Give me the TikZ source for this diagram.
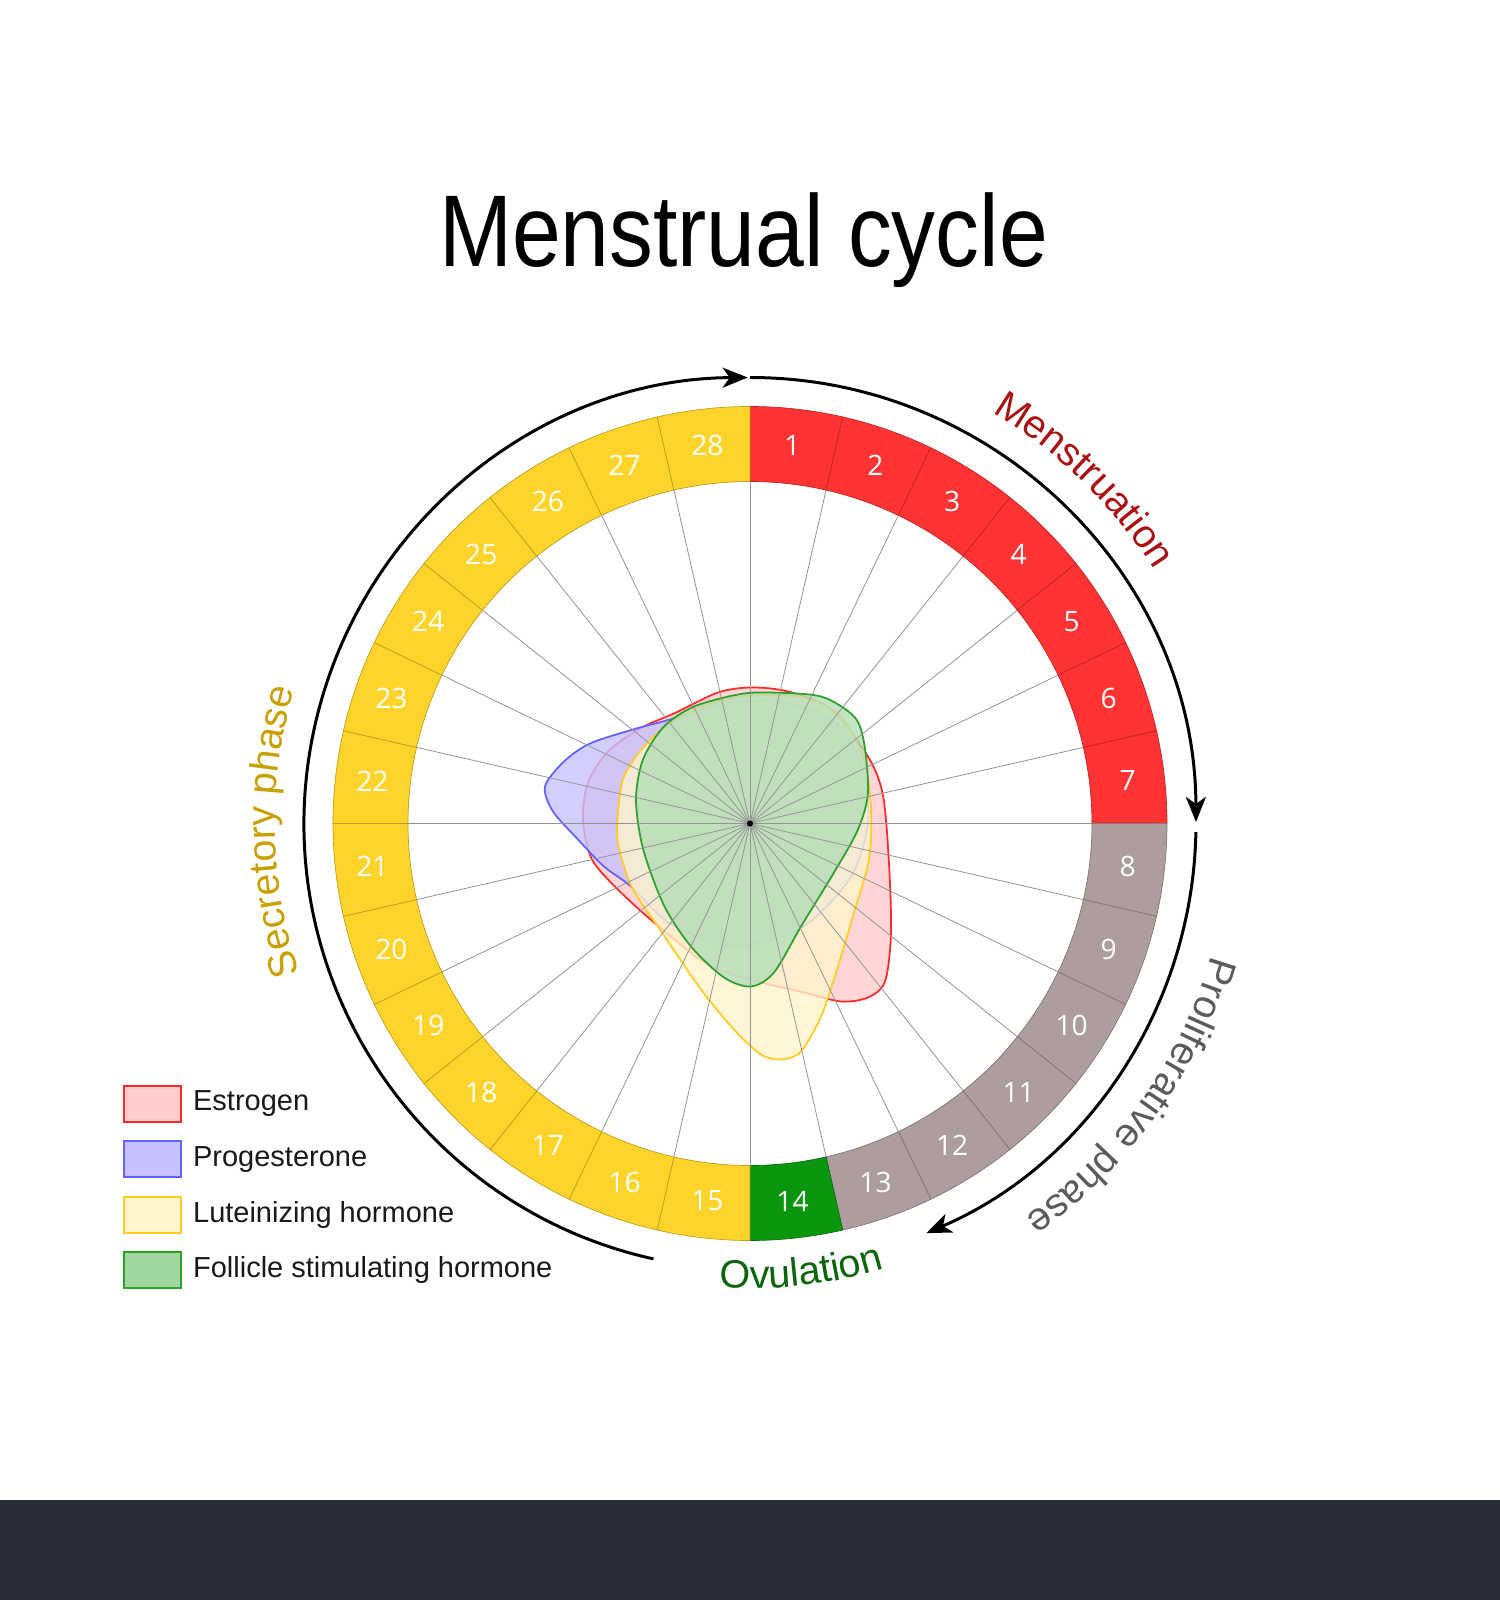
\documentclass[tikz,border=0pt]{standalone}
\usepackage{fontspec}
\setmainfont{Liberation Sans}
\newfontfamily\numfont{Open Sans}
\newfontfamily\titlefont[FakeStretch=0.86]{Liberation Sans}
\usetikzlibrary{arrows.meta,decorations.text,positioning}
\definecolor{mensred}{HTML}{FF3333}
\definecolor{prolgray}{HTML}{AD9D9D}
\definecolor{ovgreen}{HTML}{0A960F}
\definecolor{secyellow}{HTML}{FED42B}
\definecolor{menstext}{HTML}{AA1111}
\definecolor{proltext}{HTML}{5B5B5B}
\definecolor{ovtext}{HTML}{0B650B}
\definecolor{sectext}{HTML}{C8A000}
\definecolor{estline}{HTML}{FF2A2A}
\definecolor{estfill}{HTML}{FFCBCB}
\definecolor{progline}{HTML}{6262FF}
\definecolor{progfill}{HTML}{C7C2FF}
\definecolor{lhline}{HTML}{FFCC22}
\definecolor{lhfill}{HTML}{FFF4CB}
\definecolor{fshline}{HTML}{2EA02E}
\definecolor{fshfill}{HTML}{B5DDB8}
\definecolor{fshkey}{HTML}{A0D6A0}
\definecolor{band}{HTML}{282D38}
\newcommand{\labelfont}{\fontsize{22.5}{27}\selectfont}
\newcommand{\daycell}[2]{
\pgfmathsetmacro{\cellstart}{90-(#1-1)*360/28}
\pgfmathsetmacro{\cellend}{90-#1*360/28}
\pgfmathsetmacro{\cellmid}{90-(#1-0.5)*360/28}
\draw[spoke] (0,0) -- (\cellstart:342);
\filldraw[fill=#2,draw=#2!75!black,line width=0.4pt] (\cellstart:342) arc[start angle=\cellstart,end angle=\cellend,radius=342] -- (\cellend:417) arc[start angle=\cellend,end angle=\cellstart,radius=417] -- cycle;
\node[daynum] (d#1) at (\cellmid:380) {#1};
}
\newcommand{\phaselabel}[5]{
\path[decorate,decoration={text along path,text={|\labelfont|#1},text align=center,text color=#2}] (#3:#5) arc[start angle=#3,end angle=#4,radius=#5];
}
\tikzset{
spoke/.style={draw=gray!85,line width=0.45pt},
daynum/.style={font=\numfont\fontsize{16}{19}\selectfont,text=white,inner sep=0pt},
blob/.style={line width=1pt,fill opacity=0.8},
cyclearrow/.style={line width=1.7pt,-{Stealth[length=0.5cm,width=0.4cm,inset=0.14cm]}},
legendbox/.style={minimum width=1.14cm,minimum height=0.72cm,line width=1.3pt,inner sep=0pt,outer sep=0pt},
legendtext/.style={font=\fontsize{16.5}{20}\selectfont,text=black!90,inner sep=0pt,right=0.24cm of #1}
}

\begin{document}
\begin{tikzpicture}[x=0.02cm,y=0.02cm]
\useasboundingbox (-750,-776.5) rectangle (750,823.5);
\fill[band] (-750,-776.5) rectangle (750,-676.5);
\node[font=\titlefont\fontsize{58}{70}\selectfont,anchor=base] (title) at (-6.5,557) {Menstrual cycle};
\filldraw[blob,draw=estline,fill=estfill] plot[smooth cycle] coordinates {(1,136) (38,132) (81,114) (118,67) (133,28) (139,-40) (141,-110) (135,-158) (118,-174) (91,-178) (54,-169) (4,-157) (-42,-141) (-90,-104) (-129,-69) (-158,-36) (-167,4) (-162,41) (-142,72) (-110,95) (-74,111) (-32,131)};
\filldraw[blob,draw=progline,fill=progfill] plot[smooth cycle] coordinates {(-205,37) (-186,62) (-160,80) (-117,94) (-80,104) (-30,119) (30,122) (85,100) (112,55) (118,0) (100,-55) (50,-105) (-20,-122) (-80,-100) (-119,-63) (-146,-43) (-172,-16) (-197,12)};
\filldraw[blob,draw=lhline,fill=lhfill] plot[smooth cycle] coordinates {(1,128) (54,126) (91,107) (114,64) (121,14) (119,-36) (104,-89) (88,-143) (71,-193) (51,-228) (31,-236) (11,-231) (-16,-206) (-49,-166) (-88,-109) (-118,-64) (-132,-20) (-132,11) (-126,47) (-106,77) (-79,101) (-42,119)};
\filldraw[blob,draw=fshline,fill=fshfill] plot[smooth cycle] coordinates {(-12,129) (18,131) (71,127) (104,107) (114,81) (118,31) (108,-6) (84,-49) (51,-103) (24,-149) (1,-163) (-26,-154) (-59,-123) (-86,-82) (-107,-25) (-114,24) (-107,64) (-86,97) (-56,117)};
\daycell{1}{mensred}
\daycell{2}{mensred}
\daycell{3}{mensred}
\daycell{4}{mensred}
\daycell{5}{mensred}
\daycell{6}{mensred}
\daycell{7}{mensred}
\daycell{8}{prolgray}
\daycell{9}{prolgray}
\daycell{10}{prolgray}
\daycell{11}{prolgray}
\daycell{12}{prolgray}
\daycell{13}{prolgray}
\daycell{14}{ovgreen}
\daycell{15}{secyellow}
\daycell{16}{secyellow}
\daycell{17}{secyellow}
\daycell{18}{secyellow}
\daycell{19}{secyellow}
\daycell{20}{secyellow}
\daycell{21}{secyellow}
\daycell{22}{secyellow}
\daycell{23}{secyellow}
\daycell{24}{secyellow}
\daycell{25}{secyellow}
\daycell{26}{secyellow}
\daycell{27}{secyellow}
\daycell{28}{secyellow}
\fill (0,0) circle[radius=3];
\draw[cyclearrow] (257.5:446) arc[start angle=257.5,end angle=90.3,radius=446];
\draw[cyclearrow] (90:446) arc[start angle=90,end angle=0.2,radius=446];
\draw[cyclearrow] (-1.1:446) arc[start angle=-1.1,end angle=-66.7,radius=446];
\phaselabel{Menstruation}{menstext}{70}{21.6}{477}
\phaselabel{Proliferative phase}{proltext}{-5}{-66}{480}
\phaselabel{Ovulation}{ovtext}{-105}{-62}{465}
\phaselabel{Secretory phase}{sectext}{205}{157}{475}
\node[legendbox,draw=estline,fill=estfill] (estrogenbox) at (-597.7,-280.2) {};
\node[legendbox,draw=progline,fill=progfill,below=0.39cm of estrogenbox] (progbox) {};
\node[legendbox,draw=lhline,fill=lhfill,below=0.39cm of progbox] (lhbox) {};
\node[legendbox,draw=fshline,fill=fshkey,below=0.39cm of lhbox] (fshbox) {};
\node[legendtext=estrogenbox] (estrogen) {Estrogen};
\node[legendtext=progbox] (prog) {Progesterone};
\node[legendtext=lhbox] (lh) {Luteinizing hormone};
\node[legendtext=fshbox] (fsh) {Follicle stimulating hormone};
\end{tikzpicture}
\end{document}
